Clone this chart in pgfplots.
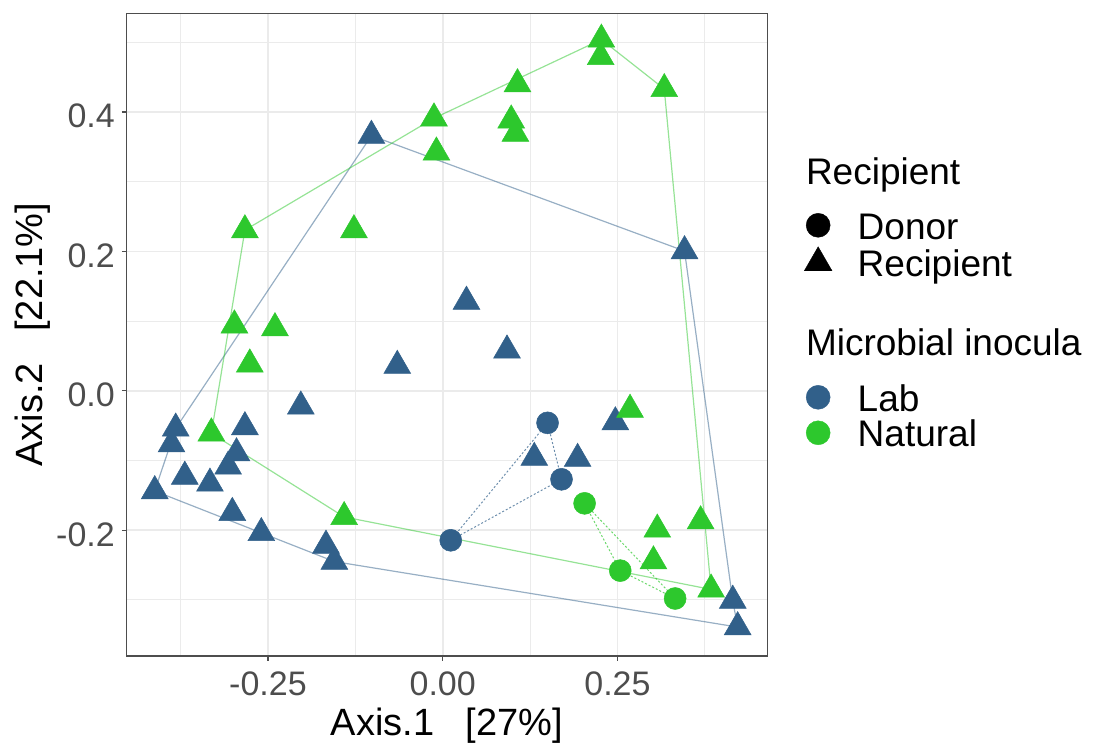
\documentclass[border=0pt]{standalone}
\usepackage{fontspec}
\setmainfont{Liberation Sans}
\usepackage{pgfplots}
\pgfplotsset{compat=1.18}
\definecolor{lab}{HTML}{31608A}
\definecolor{nat}{HTML}{2DC82D}
\definecolor{gridc}{HTML}{EBEBEB}
\definecolor{framec}{HTML}{4D4D4D}
\definecolor{tickc}{HTML}{4D4D4D}
\begin{document}
\begin{tikzpicture}
\useasboundingbox (0bp,0bp) rectangle (1094bp,745bp);
\begin{axis}[
  at={(126.5bp,89bp)}, anchor=south west,
  width=641bp, height=642.5bp, scale only axis,
  xmin=-0.4524, xmax=0.4647, ymin=-0.3805, ymax=0.5413,
  xtick={-0.25,0,0.25}, xticklabels={-0.25,0.00,0.25},
  ytick={-0.2,0,0.2,0.4}, yticklabels={-0.2,0.0,0.2,0.4},
  minor xtick={-0.375,-0.125,0.125,0.375},
  minor ytick={-0.3,-0.1,0.1,0.3,0.5},
  grid=both,
  major grid style={gridc, line width=1.6bp},
  minor grid style={gridc, line width=1.1bp},
  tick align=outside, tick pos=left,
  major tick length=4.5bp, minor tick length=0pt,
  tick style={framec, line width=1.3bp},
  axis line style={framec, line width=1.5bp},
  /pgf/number format/assume math mode=true,
  tick label style={font=\fontsize{34bp}{40bp}\selectfont, text=tickc, inner sep=0pt},
  xticklabel style={anchor=base, yshift=-35.2bp},
  yticklabel style={anchor=base east, xshift=-7bp, yshift=-15.9bp},
  xlabel={Axis.1\ \ \ [27\%]},
  ylabel={Axis.2\ \ \ [22.1\%]},
  label style={font=\fontsize{38bp}{44bp}\selectfont, inner sep=0pt},
  xlabel style={at={(axis description cs:0.5,-0.123)}, anchor=base},
  ylabel style={at={(axis description cs:-0.1318,0.5)}, anchor=base},
  legend style={at={(1.0574,0.77665)}, anchor=north west, draw=none, fill=none,
    inner sep=0pt, outer sep=0pt, row sep=7.5bp, column sep=25.7bp,
    nodes={inner sep=0pt, text depth=}, font=\fontsize{37bp}{44bp}\selectfont},
  legend cell align=left,
]
% hulls (recipients)
\addplot[forget plot, draw=lab, draw opacity=0.5, line width=1.2bp] coordinates {
 (-0.102,0.366) (0.346,0.2005) (0.415,-0.301) (0.422,-0.339) (-0.155,-0.245)
 (-0.412,-0.1438) (-0.382,-0.054) (-0.102,0.366)};
\addplot[forget plot, draw=nat, draw opacity=0.5, line width=1.2bp] coordinates {
 (0.227,0.504) (0.317,0.433) (0.384,-0.285) (-0.141,-0.181) (-0.331,-0.061)
 (-0.283,0.2305) (-0.0125,0.391) (0.227,0.504)};
% hulls (donors)
\addplot[forget plot, draw=lab, draw opacity=0.7, line width=1bp, dash pattern=on 2bp off 2bp] coordinates {
 (0.0115,-0.2145) (0.150,-0.046) (0.170,-0.127) (0.0115,-0.2145)};
\addplot[forget plot, draw=nat, draw opacity=0.7, line width=1bp, dash pattern=on 2bp off 2bp] coordinates {
 (0.203,-0.1615) (0.254,-0.258) (0.3325,-0.298) (0.203,-0.1615)};
% Lab recipients
\addplot[forget plot, only marks, mark=triangle*, mark size=15.5bp,
  mark options={fill=lab, draw=lab, line width=0.5bp}] coordinates {
 (-0.102,0.366) (0.346,0.2005) (0.034,0.128) (0.092,0.058) (-0.065,0.036)
 (-0.203,-0.0224) (-0.382,-0.054) (-0.388,-0.0767) (-0.283,-0.052)
 (-0.295,-0.0895) (-0.307,-0.1086) (-0.369,-0.123) (-0.333,-0.133)
 (-0.412,-0.1438) (-0.301,-0.175) (-0.2595,-0.204) (-0.167,-0.222)
 (-0.155,-0.245) (0.131,-0.096) (0.193,-0.0975) (0.247,-0.045) (0.422,-0.339)};
% Natural recipients
\addplot[forget plot, only marks, mark=triangle*, mark size=15.5bp,
  mark options={fill=nat, draw=nat, line width=0.5bp}] coordinates {
 (0.227,0.504) (0.226,0.479) (0.317,0.433) (0.107,0.440) (-0.0125,0.391)
 (0.098,0.388) (0.104,0.369) (-0.009,0.342) (-0.283,0.2305) (-0.127,0.2305)
 (-0.298,0.094) (-0.24,0.09) (-0.276,0.038) (-0.331,-0.061) (-0.141,-0.181)
 (0.268,-0.027) (0.307,-0.199) (0.369,-0.187) (0.3015,-0.2445) (0.384,-0.285)};
\addplot[forget plot, only marks, mark=triangle*, mark size=15.5bp,
  mark options={fill=lab, draw=lab, line width=0.5bp}] coordinates {
 (0.415,-0.301)};
% donors
\addplot[forget plot, only marks, mark=*, mark size=11bp,
  mark options={fill=lab, draw=lab, line width=0.5bp}] coordinates {
 (0.150,-0.046) (0.170,-0.127) (0.0115,-0.2145)};
\addplot[forget plot, only marks, mark=*, mark size=11bp,
  mark options={fill=nat, draw=nat, line width=0.5bp}] coordinates {
 (0.203,-0.1615) (0.254,-0.258) (0.3325,-0.298)};
% legend
\addlegendimage{legend image code/.code={}}
\addlegendentry{\hspace*{-51.7bp}\smash{Recipient}\rule[-18.8bp]{0pt}{46.8bp}}
\addlegendimage{legend image code/.code={\path[draw=none,fill=none] (0bp,-1bp) rectangle (26bp,1bp);
  \draw[only marks, mark=*, mark size=12bp, black] plot coordinates {(13bp,0bp)};}}
\addlegendentry{\smash{Donor}\rule{0pt}{28bp}}
\addlegendimage{legend image code/.code={\path[draw=none,fill=none] (0bp,-1bp) rectangle (26bp,1bp);
  \draw[only marks, mark=triangle*, mark size=16bp, black] plot coordinates {(13bp,0bp)};}}
\addlegendentry{\smash{Recipient}\rule{0pt}{28bp}}
\addlegendimage{legend image code/.code={}}
\addlegendentry{\hspace*{-51.7bp}\smash{Microbial inocula}\rule[-20.5bp]{0pt}{91.5bp}}
\addlegendimage{legend image code/.code={\path[draw=none,fill=none] (0bp,-1bp) rectangle (26bp,1bp);
  \draw[only marks, mark=*, mark size=12bp, lab] plot coordinates {(13bp,0bp)};}}
\addlegendentry{\smash{Lab}\rule{0pt}{28bp}}
\addlegendimage{legend image code/.code={\path[draw=none,fill=none] (0bp,-1bp) rectangle (26bp,1bp);
  \draw[only marks, mark=*, mark size=12bp, nat] plot coordinates {(13bp,0bp)};}}
\addlegendentry{\smash{Natural}\rule{0pt}{28bp}}
\end{axis}
\end{tikzpicture}
\end{document}
